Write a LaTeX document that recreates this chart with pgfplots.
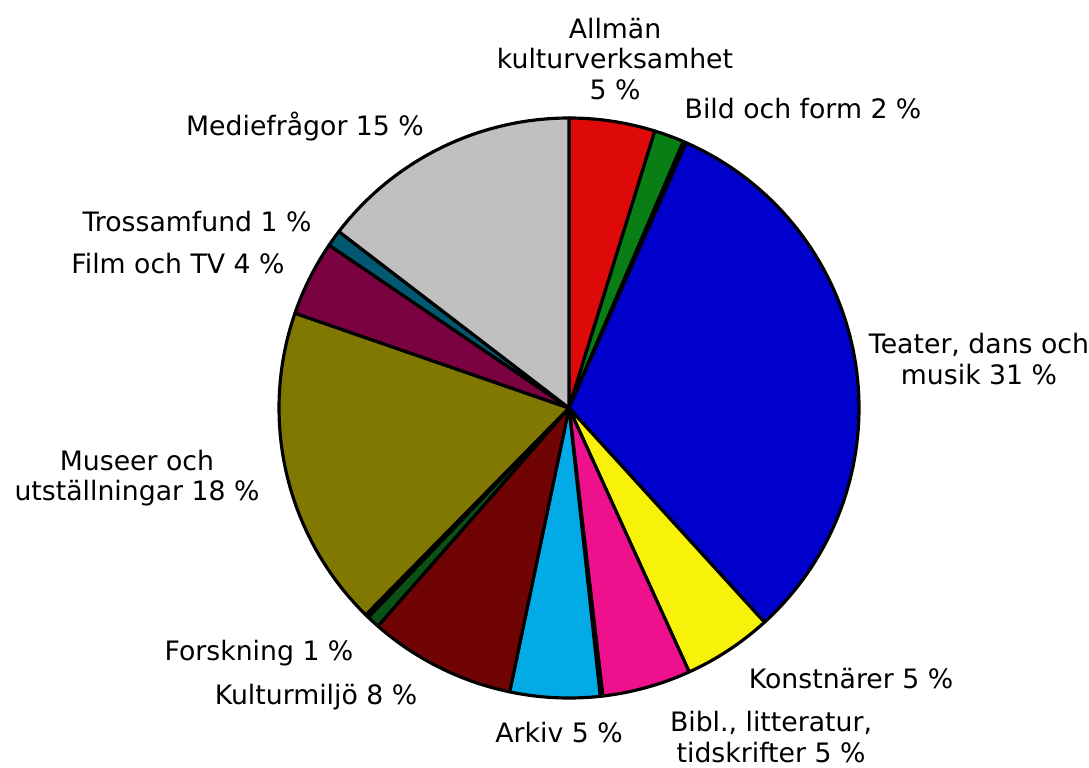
\documentclass[border=0pt]{standalone}
\usepackage{pgfplots}
\pgfplotsset{compat=1.18}
\usepackage{fontspec}
\setmainfont{DejaVu Sans}
\definecolor{cRed}{RGB}{222,10,10}
\definecolor{cGreen}{RGB}{8,126,20}
\definecolor{cBlue}{RGB}{0,0,204}
\definecolor{cYellow}{RGB}{248,242,10}
\definecolor{cPink}{RGB}{238,16,140}
\definecolor{cCyan}{RGB}{2,170,230}
\definecolor{cDarkRed}{RGB}{112,4,4}
\definecolor{cDarkGreen}{RGB}{10,82,20}
\definecolor{cOlive}{RGB}{128,120,0}
\definecolor{cPurple}{RGB}{122,2,64}
\definecolor{cTeal}{RGB}{2,88,112}
\definecolor{cGrey}{RGB}{192,192,192}
\tikzset{lbl/.style={font=\fontsize{7.6}{8.6}\selectfont, align=center, inner sep=0pt}}
\xdef\cum{0}
\newcommand{\slice}[2]{%
  \pgfmathsetmacro{\sa}{90-3.6*(\cum+#2)}%
  \pgfmathsetmacro{\sb}{90-3.6*\cum}%
  \edef\temp{\noexpand\addplot[fill=#1, draw=black, line width=0.9pt, line join=round, domain=\sa:\sb, samples=80] ({290*cos(x)},{290*sin(x)}) -- (axis cs:0,0) -- cycle;}%
  \temp
  \pgfmathsetmacro{\newcum}{\cum+#2}%
  \xdef\cum{\newcum}%
}
\begin{document}
\begin{tikzpicture}
\begin{axis}[hide axis, scale only axis, width=10.89cm, height=7.67cm,
  xmin=-569, xmax=520, ymin=-359, ymax=408, clip=false, anchor=south west, at={(0,0)}]
\slice{cRed}{4.78}
\slice{cGreen}{1.67}
\slice{cGreen}{0.17}
\slice{cBlue}{31.61}
\slice{cYellow}{4.97}
\slice{cPink}{4.94}
\slice{cCyan}{0.14}
\slice{cCyan}{5.00}
\slice{cDarkRed}{8.17}
\slice{cDarkGreen}{0.72}
\slice{cOlive}{0.19}
\slice{cOlive}{17.94}
\slice{cPurple}{4.19}
\slice{cTeal}{0.92}
\slice{cGrey}{14.59}
\node[lbl] at (axis cs:46,349) {Allmän\\kulturverksamhet\\5 \%};
\node[lbl] at (axis cs:234,299) {Bild och form 2 \%};
\node[lbl] at (axis cs:410,49) {Teater, dans och\\musik 31 \%};
\node[lbl] at (axis cs:282,-271) {Konstnärer 5 \%};
\node[lbl] at (axis cs:202,-329) {Bibl., litteratur,\\tidskrifter 5 \%};
\node[lbl] at (axis cs:-10,-325) {Arkiv 5 \%};
\node[lbl] at (axis cs:-253,-289) {Kulturmiljö 8 \%};
\node[lbl] at (axis cs:-310,-245) {Forskning 1 \%};
\node[lbl] at (axis cs:-432,-70) {Museer och\\utställningar 18 \%};
\node[lbl] at (axis cs:-391,144) {Film och TV 4 \%};
\node[lbl] at (axis cs:-372,186) {Trossamfund 1 \%};
\node[lbl] at (axis cs:-264,281) {Mediefrågor 15 \%};
\end{axis}
\pgfresetboundingbox
\useasboundingbox (0,0) rectangle (10.89cm,7.67cm);
\end{tikzpicture}
\end{document}
